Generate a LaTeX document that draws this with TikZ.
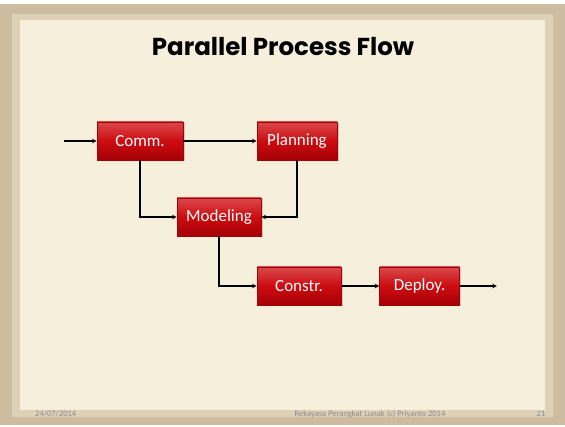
\documentclass[tikz,border=0pt]{standalone}
\usepackage{fontspec}
\setmainfont{Carlito}
\newfontfamily\titlefont{Poppins}
\usepackage{tikz}
\usetikzlibrary{positioning, arrows, calc, shadows}

\definecolor{frametan}{RGB}{205,189,160}
\definecolor{parchment}{RGB}{245,239,220}
\definecolor{boxred}{RGB}{204,12,16}
\definecolor{boxdark}{RGB}{165,0,6}
\definecolor{footgrey}{RGB}{140,140,140}

\tikzset{
    phase/.style={draw=boxdark, line width=0.6pt, top color=boxred!75!white, bottom color=boxdark,
        middle color=boxred, minimum height=38pt, minimum width=82pt, inner sep=2pt,
        text=white, font=\fontsize{17}{19}\selectfont, drop shadow={opacity=0.35, shadow xshift=1.5pt, shadow yshift=-1.5pt}},
    flow/.style={->, >=stealth, line width=1.1pt, black},
    foot/.style={text=footgrey, font=\fontsize{8.5}{9}\selectfont, inner sep=0pt}
}

\begin{document}
\begin{tikzpicture}[x=1pt, y=-1pt]
    % slide background
    \fill[white] (0,0) rectangle (565,427);
    \fill[frametan] (0,4) rectangle (565,425);
    \fill[frametan!60!parchment] (12,14) rectangle (553,417);
    \fill[parchment] (20,20) rectangle (545,410);
    \useasboundingbox (0,0) rectangle (565,427);

    \node[font=\titlefont\bfseries\fontsize{24.5}{28}\selectfont] (title) at (283,47) {Parallel Process Flow};

    % phases
    \node[phase, minimum width=86pt] (comm) at (140,141) {Comm.};
    \node[phase, minimum width=80pt] (plan) at (297,141) {Planning};
    \node[phase, minimum width=84pt] (model) at (219,217) {Modeling};
    \node[phase, minimum width=84pt] (constr) at (299,286) {Constr.};
    \node[phase, minimum width=80pt, right=38pt of constr] (deploy) {Deploy.};

    \coordinate (start) at (64,141);
    \coordinate[right=37pt of deploy] (finish);

    \draw[flow] (start) -- (comm);
    \draw[flow] (comm) -- (plan);
    \draw[flow] (comm.south) |- (model.west);
    \draw[flow] (plan.south) |- (model.east);
    \draw[flow] (model.south) |- (constr.west);
    \draw[flow] (constr) -- (deploy);
    \draw[flow] (deploy) -- (finish);

    % footer
    \node[foot, anchor=west] (date) at (35,414) {24/07/2014};
    \node[foot] (course) at (370,414) {Rekayasa Perangkat Lunak (c) Priyanto 2014};
    \node[foot] (page) at (541,414) {21};
\end{tikzpicture}
\end{document}
